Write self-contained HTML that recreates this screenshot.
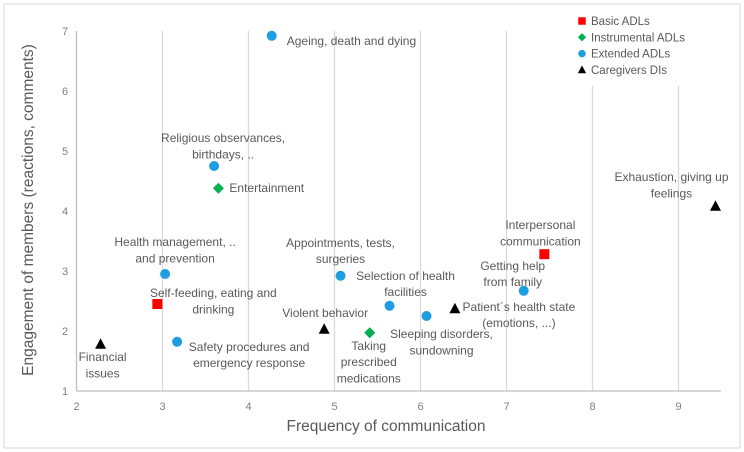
<!DOCTYPE html>
<html><head><meta charset="utf-8">
<style>
html,body{margin:0;padding:0;background:#fff;}
svg{display:block;font-family:"Liberation Sans",sans-serif;}
</style></head>
<body>
<svg id="chart" width="744" height="452" viewBox="0 0 744 452">
<rect x="4" y="4" width="736" height="444" fill="#fff" stroke="#d9d9d9"/>
<g id="grid"></g>
<g id="axes"></g>
<g id="marks"></g>
<g id="labels"></g>
<text x="386" y="431" text-anchor="middle" font-size="15.5" fill="#595959">Frequency of communication</text>
<text transform="translate(33,210) rotate(-90)" text-anchor="middle" font-size="15.5" fill="#595959">Engagement of members (reactions, comments)</text>
<g id="legend"></g>
</svg>
<script>
const names=["Ageing, death and dying","Religious observances, birthdays, ..","Entertainment","Health management, .. and prevention","Self-feeding, eating and drinking","Safety procedures and emergency response","Financial issues","Violent behavior","Appointments, tests, surgeries","Taking prescribed medications","Selection of health facilities","Sleeping disorders, sundowning","Patient´s health state (emotions, ...)","Getting help from family","Interpersonal communication","Exhaustion, giving up feelings"];
const xVals=[4.27,3.60,3.65,3.03,2.94,3.17,2.28,4.88,5.07,5.41,5.64,6.07,6.40,7.20,7.44,9.43];
const yVals=[6.92,4.75,4.38,2.95,2.45,1.82,1.78,2.03,2.92,1.97,2.42,2.25,2.37,2.67,3.28,4.08];
const cats=["ext","ext","inst","ext","basic","ext","care","care","ext","inst","ext","ext","care","ext","basic","care"];
const xTicks=[2,3,4,5,6,7,8,9];
const yTicks=[1,2,3,4,5,6,7];
const legendLabels=["Basic ADLs","Instrumental ADLs","Extended ADLs","Caregivers DIs"];
const legendCats=["basic","inst","ext","care"];
// label layout: [lines, anchor, dx, dy of first line center]
const labelLayout=[
 [["Ageing, death and dying"],"start",15,5],
 [["Religious observances,","birthdays, .."],"middle",9,-28],
 [["Entertainment"],"start",11,0],
 [["Health management, ..","and prevention"],"middle",10,-32],
 [["Self-feeding, eating and","drinking"],"middle",56,-11],
 [["Safety procedures and","emergency response"],"middle",72,5],
 [["Financial","issues"],"middle",2,13],
 [["Violent behavior"],"middle",1,-16],
 [["Appointments, tests,","surgeries"],"middle",0,-33],
 [["Taking","prescribed","medications"],"middle",-1,13],
 [["Selection of health","facilities"],"middle",16,-30],
 [["Sleeping disorders,","sundowning"],"middle",15,18],
 [["Patient´s health state","(emotions, ...)"],"middle",64,-2],
 [["Getting help","from family"],"middle",-11,-25],
 [["Interpersonal","communication"],"middle",-4,-29],
 [["Exhaustion, giving up","feelings"],"middle",-44,-29]
];
const X=v=>76.5+(v-2)*86, Y=v=>391-(v-1)*60;
const NS="http://www.w3.org/2000/svg";
function mk(tag,attrs,parent){const e=document.createElementNS(NS,tag);for(const k in attrs)e.setAttribute(k,attrs[k]);parent.appendChild(e);return e;}
const grid=document.getElementById('grid'),axes=document.getElementById('axes'),marks=document.getElementById('marks'),labels=document.getElementById('labels'),legend=document.getElementById('legend');
xTicks.forEach(t=>{
  if(t>2){const g=mk('line',{x1:X(t),x2:X(t),y1:t>=8?Y(6.09):Y(7),y2:Y(1),stroke:'#d9d9d9','stroke-width':1.3},grid);
  
  }
  const tx=mk('text',{x:X(t),y:410,'text-anchor':'middle','font-size':11,fill:'#7f7f7f'},axes);tx.textContent=t;
  
  
});
yTicks.forEach(t=>{
  const tx=mk('text',{x:65,y:Y(t)+4,'text-anchor':'middle','font-size':11,fill:'#7f7f7f'},axes);tx.textContent=t;
  
  
});
const ya=mk('line',{x1:X(2),x2:X(2),y1:Y(7),y2:Y(1),stroke:'#bfbfbf','stroke-width':1.3},axes);


const xa=mk('line',{x1:X(2),x2:721,y1:Y(1),y2:Y(1),stroke:'#bfbfbf','stroke-width':1.3},axes);


function marker(cat,cx,cy,parent,s){
  let e;
  if(cat==='basic')e=mk('rect',{x:cx-5*s,y:cy-5*s,width:10*s,height:10*s,fill:'#ff0000'},parent);
  else if(cat==='inst')e=mk('polygon',{points:`${cx},${cy-5.5*s} ${cx+5.5*s},${cy} ${cx},${cy+5.5*s} ${cx-5.5*s},${cy}`,fill:'#00b050'},parent);
  else if(cat==='ext')e=mk('circle',{cx:cx,cy:cy,r:5*s,fill:'#1e9ee0'},parent);
  else e=mk('polygon',{points:`${cx},${cy-6*s} ${cx+5.5*s},${cy+4.5*s} ${cx-5.5*s},${cy+4.5*s}`,fill:'#000'},parent);
  return e;
}
xVals.forEach((xv,i)=>{
  const cx=X(xv),cy=Y(yVals[i]);
  const m=marker(cats[i],cx,cy,marks,1);
  
  
  const L=labelLayout[i];
  const t=mk('text',{'text-anchor':L[1],'font-size':12,fill:'#595959'},labels);
  
  
  L[0].forEach((ln,j)=>{const s=mk('tspan',{x:cx+L[2],y:cy+L[3]+4+j*16.3},t);s.textContent=ln;});
});
legendLabels.forEach((lb,i)=>{
  const cy=21+i*16.3;
  const m=marker(legendCats[i],582,cy,legend,0.75);
  
  
  const t=mk('text',{x:591,y:cy+4,'font-size':11.5,fill:'#595959'},legend);t.textContent=lb;
  
  
});
</script>
</body></html>
